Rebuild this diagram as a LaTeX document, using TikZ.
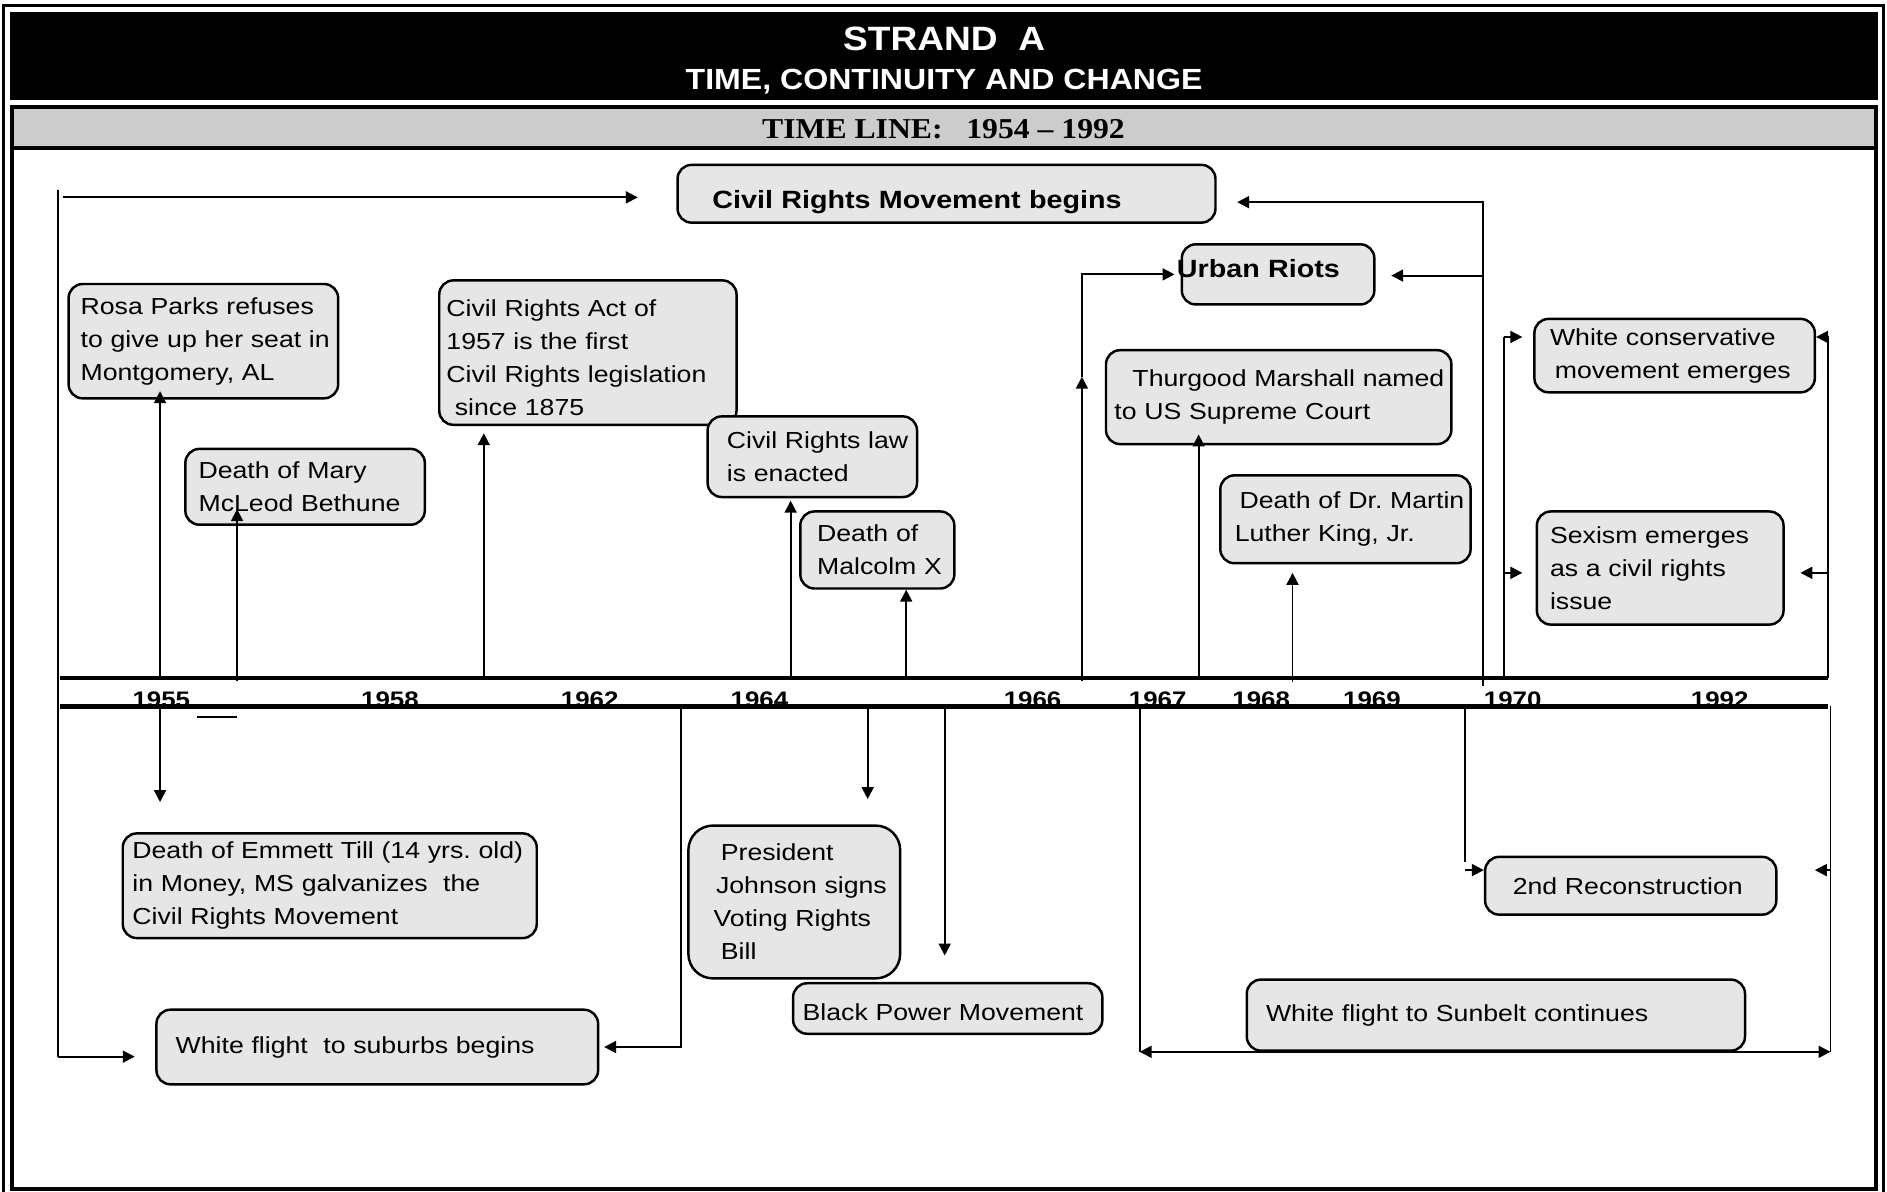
\documentclass[tikz,border=0pt]{standalone}
\usepackage{fontspec}
\setmainfont{Liberation Sans}[FakeStretch=1.15]
\newfontfamily\headfont{Liberation Sans}[FakeStretch=1.1]
\newfontfamily\lineserif{Liberation Serif}[FakeStretch=1.1]
\usepackage{xcolor}
\usetikzlibrary{arrows.meta}
\newdimen\pxu
\pxu=0.012034cm
\definecolor{boxgray}{HTML}{E6E6E6}
\definecolor{bandgray}{HTML}{CCCCCC}

\begin{document}
\begin{tikzpicture}[
  x=0.012034cm, y=-0.012034cm,
  event/.style={draw, line width=0.7pt, rounded corners=4pt, fill=boxgray, align=left, inner xsep=0pt, inner ysep=0pt, font=\fontsize{6.6}{9.4}\selectfont},
  boldevent/.style={event, font=\fontsize{7.1}{9}\selectfont\bfseries},
  lpad/.style={execute at begin node={\leftskip=#1\pxu\rightskip=-40\pxu plus 1fil}},
  year/.style={anchor=base, inner sep=0pt, font=\fontsize{6.4}{8}\selectfont\bfseries},
  link/.style={line width=0.55pt},
  arrow/.style={line width=0.55pt, -{Triangle[length=3.4pt,width=3.4pt]}},
  twoway/.style={line width=0.55pt, {Triangle[length=3.4pt,width=3.4pt]}-{Triangle[length=3.4pt,width=3.4pt]}},
  axis/.style={line width=1.3pt}
]
\useasboundingbox (0,0) rectangle (1568,990);

\draw[line width=1pt] (2.8,1000) -- (2.8,4.7) -- (1565,4.7) -- (1565,1000);
\fill[black] (8.3,9.7) rectangle (1560.6,83.1);
\fill[bandgray] (10,89) rectangle (1559,123);
\draw[line width=1.13pt] (10,89) rectangle (1559,987.8);
\draw[line width=1.13pt] (10,123) -- (1559,123);

\node[anchor=base, text=white, font=\headfont\fontsize{9.6}{11}\selectfont\bfseries] (strand) at (784.5,42) {STRAND\ \ A};
\node[anchor=base, text=white, font=\headfont\fontsize{8.3}{10}\selectfont\bfseries] (theme) at (784.5,74) {TIME, CONTINUITY AND CHANGE};
\node[anchor=base, font=\lineserif\fontsize{8.2}{10}\selectfont\bfseries] (timeline) at (784,115) {TIME LINE:\ \ \ 1954 – 1992};

\node[boldevent, text width=447*\pxu, minimum height=48*\pxu, text height=25*\pxu, text depth=0pt, lpad=29] (crm) at (786.5,161) {Civil Rights Movement begins};
\node[event, text width=224*\pxu, minimum height=95*\pxu, lpad=10] (rosa) at (169,283.5) {Rosa Parks refuses\\to give up her seat in\\Montgomery, AL};
\node[event, text width=247*\pxu, minimum height=120*\pxu, text height=23*\pxu, lpad=6] (cract) at (488.5,293) {Civil Rights Act of\\1957 is the first\\Civil Rights legislation\\\hspace*{7\pxu}since 1875};
\node[event, text width=199*\pxu, minimum height=63*\pxu, lpad=11] (bethune) at (253.5,404.5) {Death of Mary\\McLeod Bethune};
\node[event, text width=174*\pxu, minimum height=67*\pxu, lpad=16] (crlaw) at (675,379.5) {Civil Rights law\\is enacted};
\node[event, text width=128*\pxu, minimum height=64*\pxu, lpad=14] (malcolm) at (729,457) {Death of\\Malcolm X};
\node[boldevent, text width=160*\pxu, minimum height=50*\pxu, text height=5*\pxu, text depth=0pt, lpad=-4] (riots) at (1062,228) {Urban Riots};
\node[event, text width=287*\pxu, minimum height=78*\pxu, lpad=7] (thurgood) at (1062.5,330) {\hspace*{15\pxu}Thurgood Marshall named\\to US Supreme Court};
\node[event, text width=208*\pxu, minimum height=73*\pxu, lpad=12] (mlk) at (1118,431.5) {\hspace*{4\pxu}Death of Dr.\ Martin\\Luther King, Jr.};
\node[event, text width=233*\pxu, minimum height=61*\pxu, lpad=13] (whitecons) at (1391.5,295.5) {White conservative\\\hspace*{4\pxu}movement emerges};
\node[event, text width=205*\pxu, minimum height=94*\pxu, lpad=11] (sexism) at (1379.5,472) {Sexism emerges\\as a civil rights\\issue};
\node[event, text width=344*\pxu, minimum height=87*\pxu, lpad=8] (emmett) at (274,736) {Death of Emmett Till (14 yrs.\ old)\\in Money, MS galvanizes\ \ the\\Civil Rights Movement};
\node[event, text width=367*\pxu, minimum height=62*\pxu, lpad=16] (suburbs) at (313.5,870) {White flight\ \ to suburbs begins};
\node[event, text width=176*\pxu, minimum height=127*\pxu, lpad=21, rounded corners=7pt] (johnson) at (660,749.5) {\hspace*{6\pxu}President\\\hspace*{2\pxu}Johnson signs\\Voting Rights\\\hspace*{6\pxu}Bill};
\node[event, text width=257*\pxu, minimum height=42*\pxu, text height=20*\pxu, text depth=0pt, lpad=8] (blackpower) at (787.5,838) {Black Power Movement};
\node[event, text width=242*\pxu, minimum height=48*\pxu, lpad=23] (recon) at (1355,736) {2nd Reconstruction};
\node[event, text width=414*\pxu, minimum height=59*\pxu, lpad=16] (sunbelt) at (1243,843.5) {White flight to Sunbelt continues};

\foreach \yr/\xx in {1955/134, 1958/324, 1962/490, 1964/631, 1966/858, 1967/962, 1968/1048, 1969/1140, 1970/1257, 1992/1429}
  \node[year] (y\yr) at (\xx,588) {\yr};
\draw[axis] (50,563.3) -- (1519,563.3);
\draw[axis] (50,587) -- (1519,587);
\draw[line width=0.6pt] (164,596) -- (197,596);

\coordinate (t-rosa) at (133,563);
\coordinate (t-bethune) at (197,566);
\coordinate (t-cract) at (402,563);
\coordinate (t-crlaw) at (657,563);
\coordinate (t-malcolm) at (753,563);
\coordinate (t-riots) at (899,566);
\coordinate (t-thurgood) at (996,563);
\coordinate (t-mlk) at (1074,567);
\coordinate (t-crm) at (1232,570);
\coordinate (t-wcl) at (1250,563);
\coordinate (t-wcr) at (1519,563);
\coordinate (b-emmett) at (133,587);
\coordinate (b-suburbs) at (566,587);
\coordinate (b-johnson) at (721,587);
\coordinate (b-blackpower) at (785,587);
\coordinate (b-sunbelt) at (947,587);
\coordinate (b-recon) at (1217,587);
\coordinate (b-right) at (1521,587);
\coordinate (l-top) at (48,158);
\coordinate (l-crm) at (52,164);
\coordinate (l-bot) at (48,878);
\coordinate (riots-mid) at (899,313);
\coordinate (r-top) at (1232,168);
\coordinate (r-riots) at (1232,229);
\coordinate (wl-top) at (1250,280);
\coordinate (wr-top) at (1519,280);
\coordinate (wl-mid) at (1250,476);
\coordinate (wr-mid) at (1519,476);
\coordinate (sb-l) at (947,874);
\coordinate (sb-r) at (1521,874);
\coordinate (rc-end) at (1217,716);
\coordinate (rc-l) at (1217,723);
\coordinate (rc-r) at (1521,723);

\draw[arrow, shorten >=-7*\pxu] (t-rosa) -- (t-rosa |- rosa.south);
\draw[arrow, shorten >=-14*\pxu] (t-bethune) -- (t-bethune |- bethune.south);
\draw[arrow, shorten >=6*\pxu] (t-cract) -- (t-cract |- cract.south);
\draw[arrow, shorten >=2*\pxu] (t-crlaw) -- (t-crlaw |- crlaw.south);
\draw[arrow] (t-malcolm) -- (t-malcolm |- malcolm.south);
\draw[arrow, shorten >=-9*\pxu] (t-thurgood) -- (t-thurgood |- thurgood.south);
\draw[arrow, shorten >=7*\pxu] (t-mlk) -- (t-mlk |- mlk.south);

\draw[link] (l-top) -- (l-bot);
\draw[arrow, shorten >=32*\pxu] (l-crm) -- (l-crm -| crm.west);
\draw[arrow, shorten >=17*\pxu] (l-bot) -- (l-bot -| suburbs.west);

\draw[arrow] (t-riots) -- (riots-mid);
\draw[arrow, shorten >=5*\pxu] (riots-mid) |- (riots.west);
\draw[arrow, shorten >=17*\pxu] (t-crm) -- (r-top) -- (r-top -| crm.east);
\draw[arrow, shorten >=13*\pxu] (r-riots) -- (r-riots -| riots.east);

\draw[link] (t-wcl) -- (wl-top);
\draw[link] (t-wcr) -- (wr-top);
\draw[arrow, shorten >=9*\pxu] (wl-top) -- (wl-top -| whitecons.west);
\draw[arrow] (wr-top) -- (wr-top -| whitecons.east);
\draw[arrow, shorten >=11*\pxu] (wl-mid) -- (wl-mid -| sexism.west);
\draw[arrow, shorten >=13*\pxu] (wr-mid) -- (wr-mid -| sexism.east);

\draw[arrow, shorten >=25*\pxu] (b-emmett) -- (b-emmett |- emmett.north);
\draw[arrow, shorten >=4*\pxu] (b-suburbs) |- (suburbs.east);
\draw[arrow, shorten >=21*\pxu] (b-johnson) -- (b-johnson |- johnson.north);
\draw[arrow, shorten >=22*\pxu] (b-blackpower) -- (b-blackpower |- blackpower.north);

\draw[link] (b-sunbelt) -- (sb-l);
\draw[link] (b-right) -- (sb-r);
\draw[twoway] (sb-l) -- (sb-r);
\draw[link] (b-recon) -- (rc-end);
\draw[arrow] (rc-l) -- (rc-l -| recon.west);
\draw[arrow, shorten >=31*\pxu] (rc-r) -- (rc-r -| recon.east);
\end{tikzpicture}
\end{document}
